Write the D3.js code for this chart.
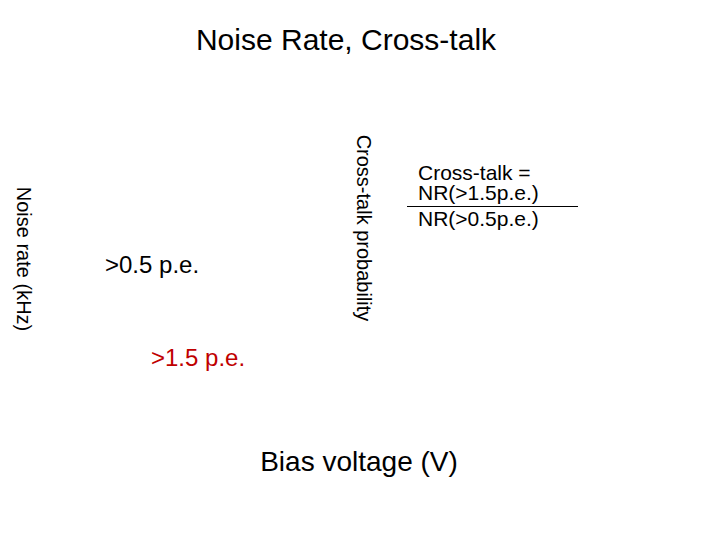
<!DOCTYPE html>
<html>
<head>
<meta charset="utf-8">
<script src="https://cdn.jsdelivr.net/npm/d3@7"></script>
<style>
  body { margin: 0; background: #fff; }
  text { font-family: "Liberation Sans", Arial, sans-serif; }
</style>
</head>
<body>
<div class="canvas"></div>
<script>
// slide texts
const title = 'Noise Rate, Cross-talk';
const yLabelLeft = 'Noise rate (kHz)';
const yLabelRight = 'Cross-talk probability';
const xLabel = 'Bias voltage (V)';
const seriesNames = ['>0.5 p.e.', '>1.5 p.e.'];
const seriesColors = ['#000000', '#c00000'];
const formulaTop = ['Cross-talk =', 'NR(>1.5p.e.)'];
const formulaBottom = 'NR(>0.5p.e.)';

const svg = d3.select('.canvas').append('svg')
    .attr('width', 720)
    .attr('height', 540);

svg.append('rect')
    .attr('width', 720)
    .attr('height', 540)
    .attr('fill', '#fff');

// title
svg.append('text')
    .text(title)
    .attr('x', 346)
    .attr('y', 50)
    .attr('text-anchor', 'middle')
    .attr('font-size', 30)
    .attr('fill', '#000');

// left axis label
svg.append('text')
    .text(yLabelLeft)
    .attr('transform', 'translate(17,259) rotate(90)')
    .attr('text-anchor', 'middle')
    .attr('font-size', 20)
    .attr('fill', '#000');

// right axis label
svg.append('text')
    .text(yLabelRight)
    .attr('transform', 'translate(357,228) rotate(90)')
    .attr('text-anchor', 'middle')
    .attr('font-size', 20)
    .attr('fill', '#000');

// x label
svg.append('text')
    .text(xLabel)
    .attr('x', 359)
    .attr('y', 471)
    .attr('text-anchor', 'middle')
    .attr('font-size', 28)
    .attr('fill', '#000');

// series labels
const seriesPos = [[105, 273], [151, 366]];
svg.selectAll('text.series')
    .data(seriesNames)
    .join('text')
    .attr('class', 'series')
    .text(d => d)
    .attr('x', (d, i) => seriesPos[i][0])
    .attr('y', (d, i) => seriesPos[i][1])
    .attr('font-size', 24)
    .attr('fill', (d, i) => seriesColors[i]);

// cross-talk formula
svg.selectAll('text.formula')
    .data(formulaTop)
    .join('text')
    .attr('class', 'formula')
    .text(d => d)
    .attr('x', 418)
    .attr('y', (d, i) => 180 + i * 20)
    .attr('font-size', 21)
    .attr('fill', '#000');

svg.append('line')
    .attr('x1', 407)
    .attr('x2', 578)
    .attr('y1', 206.5)
    .attr('y2', 206.5)
    .attr('stroke', '#000')
    .attr('stroke-width', 1);

svg.append('text')
    .text(formulaBottom)
    .attr('x', 418)
    .attr('y', 226)
    .attr('font-size', 21)
    .attr('fill', '#000');
</script>
</body>
</html>
